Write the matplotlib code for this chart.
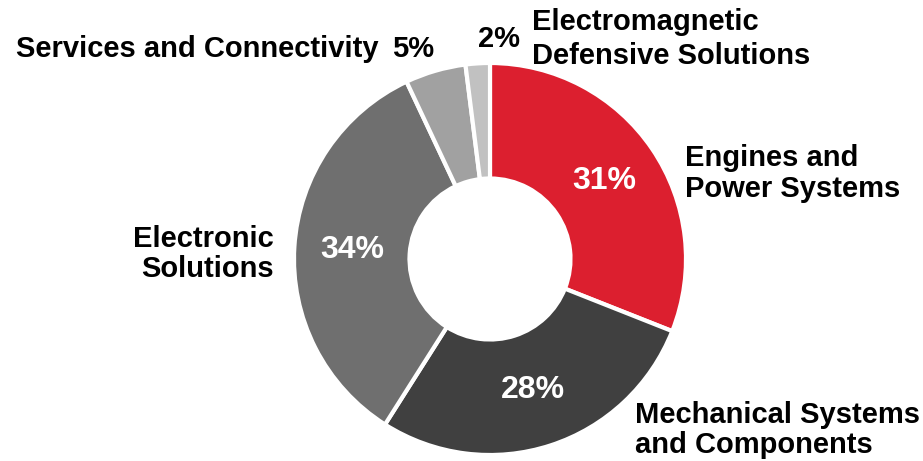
import matplotlib
matplotlib.use("Agg")
import matplotlib.pyplot as plt

# Revenue share by business segment
segments = [
    "Engines and\nPower Systems",
    "Mechanical Systems\nand Components",
    "Electronic\nSolutions",
    "Services and Connectivity",
    "Electromagnetic\nDefensive Solutions",
]
shares = [31, 28, 34, 5, 2]
colors = ["#DC1F2F", "#404040", "#6F6F6F", "#A1A1A1", "#C1C1C1"]

W, H = 923, 461
plt.rcParams["font.family"] = ["Liberation Sans", "DejaVu Sans"]
plt.rcParams["font.weight"] = "bold"

fig = plt.figure(figsize=(W / 100, H / 100), dpi=100)
ax = fig.add_axes([0, 0, 1, 1])

cx, cy = 490, H - 259
r_out, r_in = 196, 80.5

def pct_label(p):
    return f"{p:.0f}%" if p >= 10 else ""

wedges, texts, autotexts = ax.pie(
    shares,
    colors=colors,
    startangle=90,
    counterclock=False,
    center=(cx, cy),
    radius=r_out,
    autopct=pct_label,
    pctdistance=0.705,
    wedgeprops=dict(width=r_out - r_in, edgecolor="white", linewidth=3),
    textprops=dict(color="white", fontsize=23, fontweight="bold"),
)
for t in autotexts:
    t.set_verticalalignment("center")

# canvas in pixel units
ax.set_xlim(0, W)
ax.set_ylim(0, H)
ax.set_aspect("equal")
ax.axis("off")

fs = 21
line_gap = 31

def label(text, x, y_top_baseline, ha="left", gap=line_gap):
    for i, line in enumerate(text.split("\n")):
        ax.text(x, H - (y_top_baseline + i * gap), line, ha=ha, va="baseline",
                fontsize=fs, fontweight="bold", color="black")

label(segments[0], 685, 166)
label(segments[1], 635, 423, gap=30)
label(segments[2], 274, 247, ha="right", gap=30)
label(segments[3], 16, 57)
label(f"{shares[3]}%", 392, 57)
label(f"{shares[4]}%", 478, 47)
label(segments[4], 532, 30, gap=34)

fig.savefig("out.png", dpi=100, facecolor="white")
